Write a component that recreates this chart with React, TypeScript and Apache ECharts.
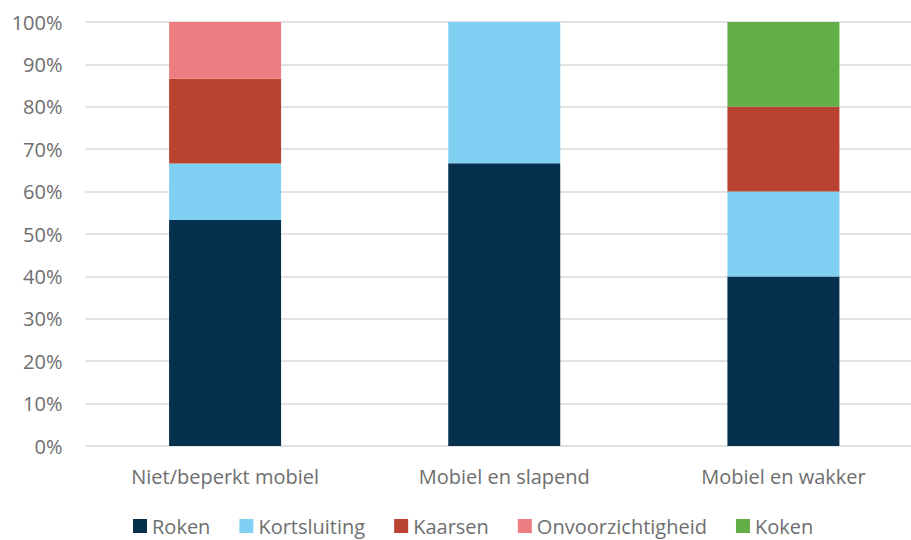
import React, { useEffect, useRef } from "react";
import * as echarts from "echarts";

const categories = ["Niet/beperkt mobiel", "Mobiel en slapend", "Mobiel en wakker"];
const roken = [53.3, 66.7, 40];
const kortsluiting = [13.3, 33.3, 20];
const kaarsen = [20, 0, 20];
const onvoorzichtigheid = [13.4, 0, 0];
const koken = [0, 0, 20];

const seriesDefs = [
  { name: "Roken", data: roken, color: "#06304e" },
  { name: "Kortsluiting", data: kortsluiting, color: "#80d0f4" },
  { name: "Kaarsen", data: kaarsen, color: "#b94231" },
  { name: "Onvoorzichtigheid", data: onvoorzichtigheid, color: "#ed7d81" },
  { name: "Koken", data: koken, color: "#62ae47" },
];

const FONT = "'Open Sans', sans-serif";
const TEXT = "#6e6e6e";

export default function App() {
  const ref = useRef<HTMLDivElement>(null);

  useEffect(() => {
    if (!ref.current) return;
    const chart = echarts.init(ref.current, undefined, { renderer: "svg" });
    chart.setOption({
      animation: false,
      textStyle: { fontFamily: FONT },
      // the plot runs past the right edge of the visible frame
      grid: { left: 85.5, right: 0, top: 22, bottom: 94, containLabel: false },
      legend: {
        left: 128,
        top: 511,
        itemWidth: 14,
        itemHeight: 14,
        itemGap: 29,
        icon: "rect",
        textStyle: { fontFamily: FONT, fontSize: 20, color: TEXT },
        data: seriesDefs.map((s) => s.name),
      },
      xAxis: {
        type: "category",
        data: categories,
        axisLine: { show: false },
        axisTick: { show: false },
        axisLabel: { fontFamily: FONT, fontSize: 20, color: TEXT, margin: 20 },
      },
      yAxis: {
        type: "value",
        min: 0,
        max: 100,
        interval: 10,
        axisLine: { show: false },
        axisTick: { show: false },
        axisLabel: {
          fontFamily: FONT,
          fontSize: 20,
          color: TEXT,
          margin: 23,
          formatter: (v: number) => `${v}%`,
        },
        splitLine: { lineStyle: { color: "#d9d9d9", width: 1.5 } },
      },
      series: seriesDefs.map((s) => ({
        name: s.name,
        type: "bar",
        stack: "total",
        barWidth: 112,
        data: s.data,
        itemStyle: { color: s.color },
      })),
    });
    return () => chart.dispose();
  }, []);

  return (
    <div
      style={{
        position: "fixed",
        left: 0,
        top: 0,
        width: 911,
        height: 540,
        overflow: "hidden",
        background: "#fff",
      }}
    >
      <div ref={ref} style={{ width: 923, height: 540 }} />
    </div>
  );
}
